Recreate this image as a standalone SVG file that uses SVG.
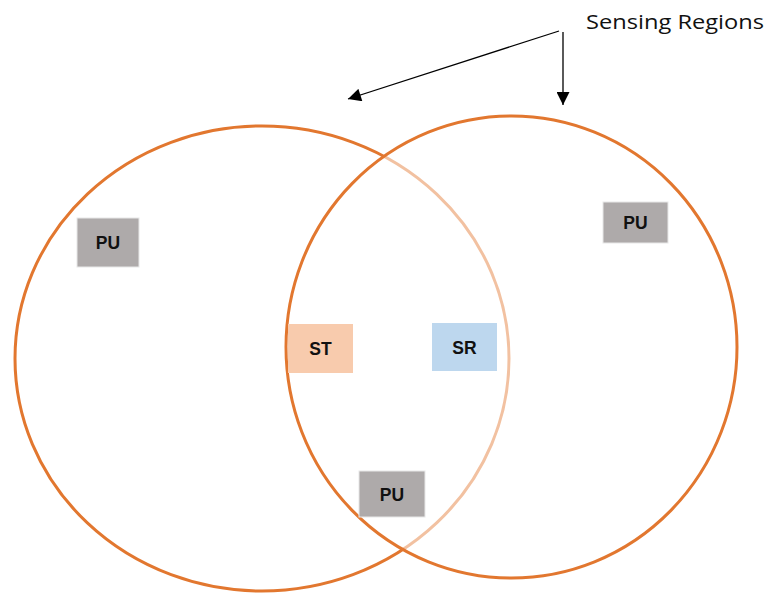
<svg xmlns="http://www.w3.org/2000/svg" width="769" height="595" viewBox="0 0 769 595">
  <defs>
    <style>
      .region { fill: none; stroke: #E2772F; stroke-width: 3; }
      .region-top { fill: #FFFFFF; fill-opacity: 0.55; stroke: #E2772F; stroke-width: 3; }
      .box-pu { fill: #AEAAAA; stroke: #E8E8E8; stroke-width: 1; }
      .box-st { fill: #F8CBAD; }
      .box-sr { fill: #BDD7EE; }
      .lbl { font-family: "Liberation Sans", Arial, sans-serif; font-weight: bold; font-size: 17.5px; fill: #111111; text-anchor: middle; }
      .caption { font-family: "Open Sans", "Liberation Sans", sans-serif; font-size: 20.5px; fill: #111111; }
      .conn { stroke: #000000; stroke-width: 1.3; fill: none; }
    </style>
    <marker id="head" viewBox="0 0 10 10" refX="10" refY="5" markerWidth="15" markerHeight="13" markerUnits="userSpaceOnUse" orient="auto">
      <path d="M0,0 L10,5 L0,10 Z" fill="#000000"/>
    </marker>
  </defs>

  <!-- sensing regions -->
  <g id="region-left">
    <ellipse class="region" cx="262" cy="358.5" rx="247" ry="232.5"/>
  </g>
  <g id="region-right">
    <ellipse class="region-top" cx="511.5" cy="347" rx="225.5" ry="231"/>
  </g>

  <!-- nodes -->
  <g id="pu-left">
    <rect class="box-pu" x="77" y="218" width="62" height="49"/>
    <text class="lbl" x="108" y="248.5">PU</text>
  </g>
  <g id="pu-right">
    <rect class="box-pu" x="603" y="202" width="65" height="41"/>
    <text class="lbl" x="635.5" y="229">PU</text>
  </g>
  <g id="pu-bottom">
    <rect class="box-pu" x="359" y="471" width="66" height="46"/>
    <text class="lbl" x="392" y="500.5">PU</text>
  </g>
  <g id="st">
    <rect class="box-st" x="288" y="324" width="65" height="49"/>
    <text class="lbl" x="320.5" y="354.5">ST</text>
  </g>
  <g id="sr">
    <rect class="box-sr" x="432" y="323" width="65" height="48"/>
    <text class="lbl" x="464.5" y="353.5">SR</text>
  </g>

  <g id="caption">
    <text class="caption" x="586" y="29" textLength="178" lengthAdjust="spacingAndGlyphs">Sensing Regions</text>
  </g>

  <!-- connectors -->
  <g id="connectors">
    <line class="conn" x1="559" y1="31" x2="348" y2="99" marker-end="url(#head)"/>
    <line class="conn" x1="563" y1="32" x2="563" y2="105" marker-end="url(#head)"/>
  </g>
</svg>
